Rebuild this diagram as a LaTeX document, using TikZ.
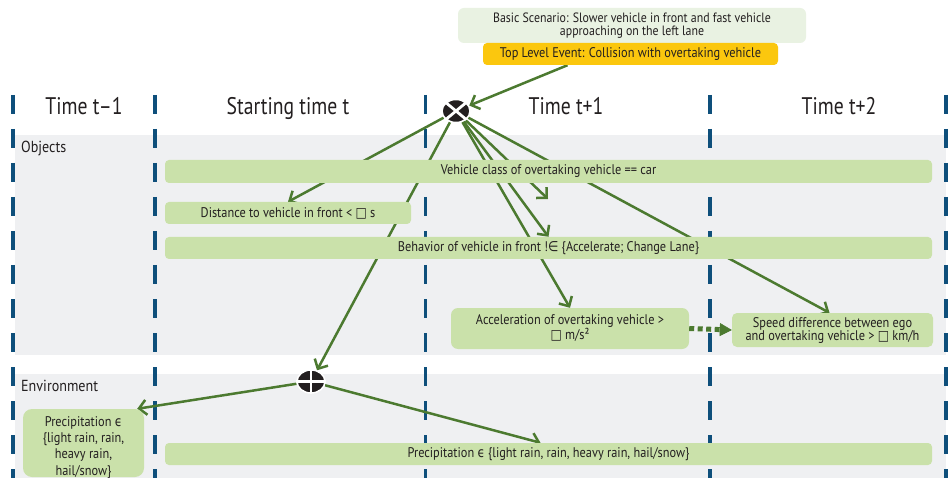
\documentclass[tikz,border=0pt]{standalone}
\usepackage{fontspec}
\setmainfont{PT Sans}[FakeStretch=0.82]
\newfontfamily\bxf{PT Sans}[FakeStretch=0.88]
\newfontfamily\symf{DejaVu Sans}[FakeStretch=0.85]
\usetikzlibrary{shapes.geometric,arrows.meta,calc}
\definecolor{panel}{HTML}{EFF0F2}
\definecolor{boxg}{HTML}{CAE1AA}
\definecolor{scen}{HTML}{E9F2E2}
\definecolor{tlev}{HTML}{FBC70E}
\definecolor{agreen}{HTML}{4C7A30}
\definecolor{dblue}{HTML}{0E4F7B}
\definecolor{txt}{HTML}{231F20}
\pgfdeclarelayer{back}
\pgfdeclarelayer{mid}
\pgfsetlayers{back,mid,main}
\newcommand{\sq}{{\symf\char"25A1}}
\newcommand{\elem}{{\symf\char"2208}}
\newcommand{\lelem}{{\symf\char"03F5}}
\tikzset{
  gbox/.style={fill=boxg, rounded corners=4pt, inner sep=0pt, align=center, text=txt,
    font=\bxf\fontsize{14}{15}\selectfont},
  ptext/.style={inner sep=0pt, align=center, text=txt,
    font=\bxf\fontsize{14}{16.3}\selectfont},
  hdr/.style={text=txt, inner sep=0pt, font=\fontsize{24}{28}\selectfont},
  lbl/.style={text=txt, inner sep=0pt, font=\bxf\fontsize{16}{18}\selectfont},
  dashline/.style={draw=dblue, line width=3.5pt, dash pattern=on 19pt off 15pt},
  arr/.style={draw=agreen, line width=2.5pt, -{Straight Barb[length=7.5pt,width=15pt]}},
  dotarr/.style={draw=agreen, line width=5pt, dash pattern=on 5pt off 3.5pt,
    -{Triangle[length=12pt,width=13pt,line width=0.5pt]}},
  gate/.style={ellipse, fill=txt, draw=white, line width=1.5pt, inner sep=0pt,
    minimum width=28pt, minimum height=23pt},
  gline/.style={draw=white, line width=2.8pt}
}
\begin{document}
\begin{tikzpicture}[x=1pt,y=-1pt]
\clip (0,0) rectangle (950,478);
\begin{pgfonlayer}{back}
\fill[white] (0,0) rectangle (950,478);
\fill[panel] (15,135) rectangle (946,355);
\fill[panel] (15,374) rectangle (946,480);
\foreach \x in {13,155,425.5,710,946}
  \draw[dashline] (\x,95) -- (\x,482);
\end{pgfonlayer}

% headers
\node[hdr, anchor=base] (h1) at (84,115) {Time t–1};
\node[hdr, anchor=base] (h2) at (288,115) {Starting time t};
\node[hdr, anchor=base] (h3) at (566,115) {Time t+1};
\node[hdr, anchor=base] (h4) at (839,115) {Time t+2};
\node[lbl, anchor=base west] (obj) at (21,152.5) {Objects};
\node[lbl, anchor=base west] (env) at (21,391.5) {Environment};

% top boxes
\node[gbox, fill=scen, rounded corners=6pt, minimum width=348pt, minimum height=35pt,
  font=\bxf\fontsize{13.5}{15}\selectfont] (scen) at (632,25.5)
  {Basic Scenario: Slower vehicle in front and fast vehicle\\[-2pt]approaching on the left lane};
\node[gbox, fill=tlev, minimum width=295pt, minimum height=22pt] (tle) at (630.5,54)
  {Top Level Event: Collision with overtaking vehicle};

% condition boxes
\node[gbox, minimum width=767pt, minimum height=23pt] (vc) at (548.5,171.5)
  {Vehicle class of overtaking vehicle == car};
\node[gbox, minimum width=246pt, minimum height=22pt] (dist) at (288,213)
  {Distance to vehicle in front < \sq{} s};
\node[gbox, minimum width=767pt, minimum height=22pt] (beh) at (548.5,248)
  {Behavior of vehicle in front !\elem{} \{Accelerate; Change Lane\}};
\node[gbox, rounded corners=7pt, minimum width=238pt, minimum height=41pt] (acc) at (570,328.5)
  {Acceleration of overtaking vehicle >\\[0pt]\sq{} m/s²};
\node[gbox, rounded corners=5pt, minimum width=201pt, minimum height=34pt] (spd) at (832.5,330)
  {Speed difference between ego\\[-2pt]and overtaking vehicle > \sq{} km/h};
\node[gbox, minimum width=767pt, minimum height=22pt] (pr) at (548.5,454)
  {Precipitation \lelem{} \{light rain, rain, heavy rain, hail/snow\}};
\node[gbox, rounded corners=9pt, minimum width=121pt, minimum height=68pt] (pl) at (83.5,443) {};
\node[ptext] (plt) at (83.5,447.5)
  {Precipitation \lelem\\\{light rain, rain,\\heavy rain,\\hail/snow\}};

% gates
\node[gate] (X) at (456,111) {};
\draw[gline] (X.north west) -- (X.south east) (X.north east) -- (X.south west);
\node[gate] (P) at (311,381.5) {};
\draw[gline] (P.north) -- (P.south) (P.west) -- (P.east);

\coordinate (c1) at (548,199);

\begin{pgfonlayer}{mid}
\draw[arr] ($(tle.south)+(-63,0)$) -- (X);
\draw[arr] (X) -- (dist.north);
\draw[arr] (X) -- (P);
\draw[arr] (X) -- (c1);
\draw[arr] (X) -- (beh.north);
\draw[arr] (X) -- (acc.north);
\draw[arr] (X) -- ($(spd.north)+(-3,0)$);
\draw[arr] (P) -- ($(pl.north east)+(-7,0)$);
\draw[arr] (P) -- ($(pr.north)+(-8,0)$);
\end{pgfonlayer}
\draw[dotarr] (acc.east) -- (spd.west);
\end{tikzpicture}
\end{document}
